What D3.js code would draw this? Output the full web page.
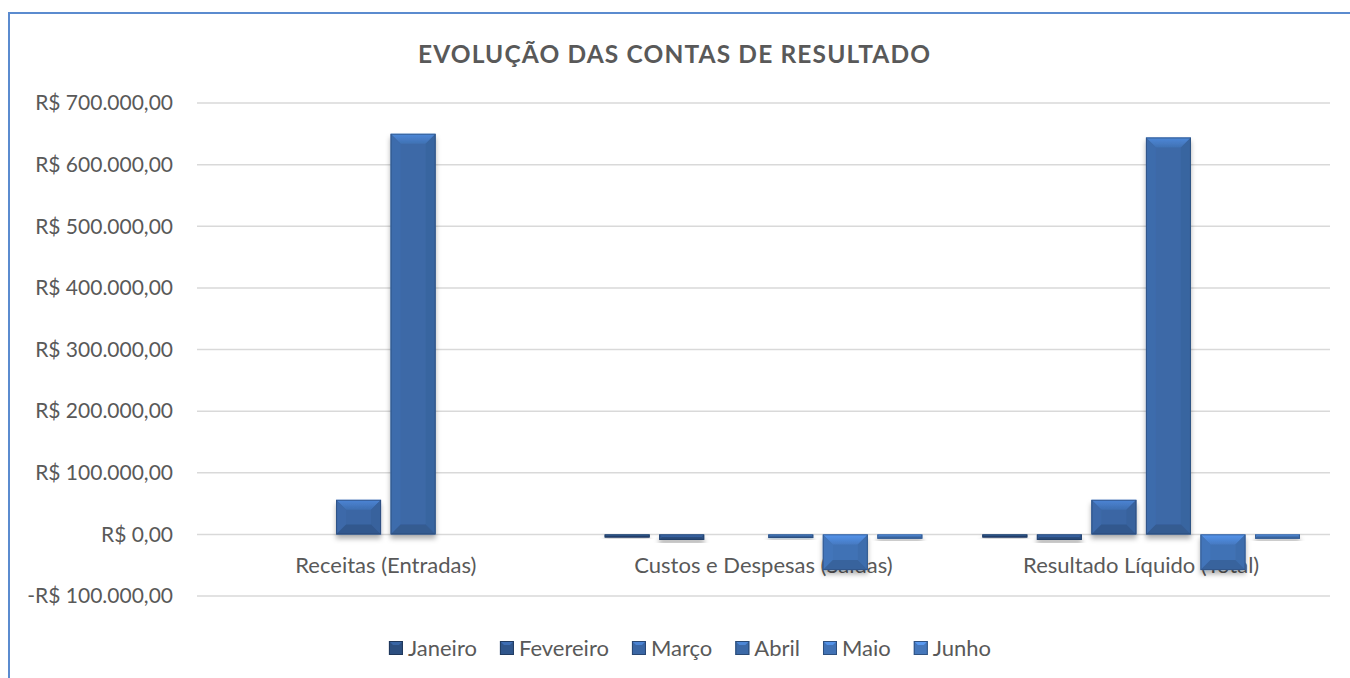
<!DOCTYPE html>
<html><head><meta charset="utf-8">
<script src="https://cdn.jsdelivr.net/npm/d3@7"></script>
<style>body{margin:0;background:#fff;overflow:hidden}</style>
</head><body>
<svg id="chart" width="1350" height="678"></svg>
<script>
// ---- data ----
const categories = ["Receitas (Entradas)", "Custos e Despesas (Saídas)", "Resultado Líquido (Total)"];
const months = ["Janeiro", "Fevereiro", "Março", "Abril", "Maio", "Junho"];
const janeiro   = [0, -5000, -5000];
const fevereiro = [0, -9000, -9000];
const marco     = [56000, 0, 56000];
const abril     = [650000, -6000, 644000];
const maio      = [0, -58000, -58000];
const junho     = [0, -7000, -7000];
const seriesValues = [janeiro, fevereiro, marco, abril, maio, junho];
const yTicks = [-100000, 0, 100000, 200000, 300000, 400000, 500000, 600000, 700000];
const title = "EVOLUÇÃO DAS CONTAS DE RESULTADO";

// ---- style ----
const seriesColors = ["#2c4f80", "#30568c", "#3a66a4", "#3c69a7", "#4172b5", "#4577bb"];
const FONT = "Lato, 'Open Sans', sans-serif";
const svg = d3.select("#chart");

const defs = svg.append("defs");
const f = defs.append("filter").attr("id","shadow").attr("x","-20%").attr("y","-20%").attr("width","140%").attr("height","160%");
f.append("feDropShadow").attr("dx",0).attr("dy",4).attr("stdDeviation",2.5).attr("flood-color","#000").attr("flood-opacity",0.3);

// frame
svg.append("rect").attr("x",9).attr("y",13).attr("width",1400).attr("height",700)
  .attr("fill","#fff").attr("stroke","#5b8bcf").attr("stroke-width",2);

const plot = {left:197, right:1330, top:103, bottom:596};
const y = d3.scaleLinear().domain([-100000, 700000]).range([plot.bottom, plot.top]);
const x0 = d3.scaleBand().domain(categories).range([plot.left, plot.right]).paddingInner(0).paddingOuter(0);
const x1 = d3.scaleBand().domain(months).range([0, x0.bandwidth()]).paddingInner(0.175).paddingOuter(0.55);

// title
svg.append("text").attr("x",674).attr("y",63).attr("text-anchor","middle")
  .attr("font-family",FONT).attr("font-weight","bold").attr("font-size",24.5).attr("fill","#595959")
  .attr("textLength",512).attr("lengthAdjust","spacing").text(title);

// gridlines
svg.append("g").selectAll("line").data(yTicks).join("line")
  .attr("x1",plot.left).attr("x2",plot.right)
  .attr("y1",d=>y(d)).attr("y2",d=>y(d))
  .attr("stroke","#d9d9d9").attr("stroke-width",1.5);

// y labels
const fmt = v => (v<0?"-":"") + "R$ " + d3.format(",.2f")(Math.abs(v)).replace(/,/g,"#").replace(/\./g,",").replace(/#/g,".");
svg.append("g").selectAll("text").data(yTicks).join("text")
  .attr("x",173).attr("y",d=>y(d)).attr("dy","0.35em").attr("text-anchor","end")
  .attr("font-family",FONT).attr("font-size",21).attr("fill","#595959")
  .text(d => d===0 ? "R$ 0,00" : fmt(d));

// category labels (behind bars)
svg.append("g").selectAll("text").data(categories).join("text")
  .attr("x",d=>x0(d)+x0.bandwidth()/2).attr("y",y(0)+31).attr("dy","0.35em").attr("text-anchor","middle")
  .attr("font-family",FONT).attr("font-size",22).attr("fill","#595959").text(d=>d);

seriesColors.forEach((col, i) => {
  const g = defs.append("linearGradient").attr("id","topgrad"+i).attr("x1",0).attr("y1",0).attr("x2",0).attr("y2",1);
  g.append("stop").attr("offset","0%").attr("stop-color",d3.color(col).brighter(0.75).formatHex());
  g.append("stop").attr("offset","100%").attr("stop-color",d3.color(col).brighter(0.2).formatHex());
});

// bars with bevel
function bevelBar(g, bx, bw, ya, yb, si){
  const color = seriesColors[si];
  const yt = Math.min(ya,yb), ybt = Math.max(ya,yb), h = ybt-yt;
  if (h < 0.5) return;
  const b = Math.min(10, h/2, bw/2);
  const c = d3.color(color);
  const grp = g.append("g").attr("filter","url(#shadow)");
  grp.append("rect").attr("x",bx).attr("y",yt).attr("width",bw).attr("height",h).attr("fill",color);
  const xl=bx, xr=bx+bw;
  const poly = (pts, fill) => grp.append("polygon").attr("points", pts.map(p=>p.join(",")).join(" ")).attr("fill", fill);
  poly([[xl,yt],[xr,yt],[xr-b,yt+b],[xl+b,yt+b]], "url(#topgrad" + si + ")");
  poly([[xl,yt],[xl+b,yt+b],[xl+b,ybt-b],[xl,ybt]], c.brighter(0.08).formatHex());
  poly([[xr,yt],[xr,ybt],[xr-b,ybt-b],[xr-b,yt+b]], c.darker(0.12).formatHex());
  poly([[xl,ybt],[xr,ybt],[xr-b,ybt-b],[xl+b,ybt-b]], c.darker(0.4).formatHex());
  grp.append("rect").attr("x",bx+0.5).attr("y",yt+0.5).attr("width",Math.max(0,bw-1)).attr("height",Math.max(0,h-1))
    .attr("fill","none").attr("stroke",c.darker(1.1).formatHex()).attr("stroke-width",1).attr("stroke-opacity",0.6);
}
const barsG = svg.append("g");
categories.forEach((cat, ci) => {
  months.forEach((m, si) => {
    const v = seriesValues[si][ci];
    bevelBar(barsG, x0(cat)+x1(m), x1.bandwidth(), y(0), y(v), si);
  });
});

// legend
const lg = svg.append("g");
let lx = 0;
months.forEach((m, i) => {
  const it = lg.append("g");
  const col = d3.color(seriesColors[i]);
  it.append("rect").attr("x",0).attr("y",-7).attr("width",14).attr("height",14).attr("fill",seriesColors[i]);
  it.append("polygon").attr("points","0,-7 14,-7 10,-3 4,-3").attr("fill",col.brighter(0.7).formatHex());
  it.append("rect").attr("x",0.5).attr("y",-6.5).attr("width",13).attr("height",13).attr("fill","none").attr("stroke",col.darker(1).formatHex()).attr("stroke-width",1);
  const t = it.append("text").attr("x",19).attr("y",0).attr("dy","0.35em")
    .attr("font-family",FONT).attr("font-size",22).attr("fill","#595959").text(m);
  const w = 19 + t.node().getComputedTextLength();
  it.attr("transform",`translate(${lx},648)`);
  lx += w + 23;
});
const totalW = lx - 23;
lg.attr("transform",`translate(${690 - totalW/2},0)`);
</script>
</body></html>
